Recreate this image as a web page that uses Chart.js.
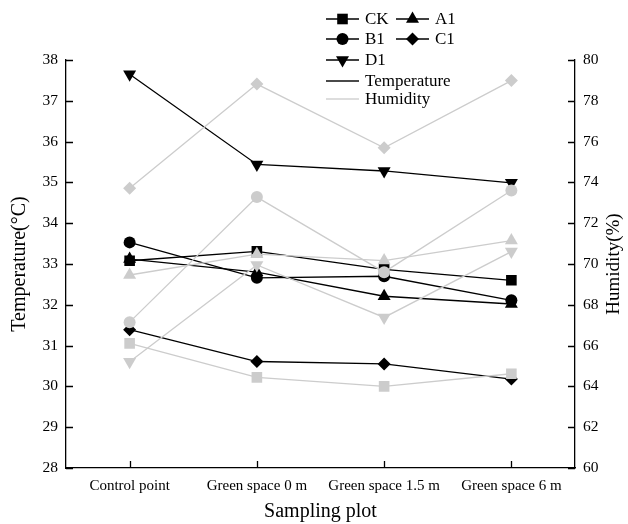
<!DOCTYPE html>
<html>
<head>
<meta charset="utf-8">
<title>Temperature and humidity by sampling plot</title>
<script src="https://cdn.jsdelivr.net/npm/chart.js"></script>
<style>
  html, body { margin: 0; padding: 0; background: #fff; }
  #wrap { width: 628px; height: 524px; }
</style>
</head>
<body>
<div id="wrap"><canvas id="chart" width="628" height="524"></canvas></div>
<script>
// values
const categories = ['Control point', 'Green space 0 m', 'Green space 1.5 m', 'Green space 6 m'];
const seriesNames = ['CK', 'A1', 'B1', 'C1', 'D1'];

const tempCK = [33.08, 33.31, 32.87, 32.60];
const tempA1 = [33.12, 32.80, 32.21, 32.02];
const tempB1 = [33.53, 32.66, 32.70, 32.11];
const tempC1 = [31.39, 30.61, 30.55, 30.18];
const tempD1 = [37.65, 35.44, 35.28, 34.99];

const humCK = [66.11, 64.44, 64.00, 64.62];
const humA1 = [69.46, 70.48, 70.17, 71.15];
const humB1 = [67.15, 73.28, 69.60, 73.60];
const humC1 = [73.71, 78.82, 75.70, 78.99];
const humD1 = [65.21, 69.95, 67.38, 70.61];

const tempTicks = [28, 29, 30, 31, 32, 33, 34, 35, 36, 37, 38];
const humTicks = [60, 62, 64, 66, 68, 70, 72, 74, 76, 78, 80];

const tempSeries = [tempCK, tempA1, tempB1, tempC1, tempD1];
const humSeries = [humCK, humA1, humB1, humC1, humD1];

const SERIF = "'Liberation Serif', 'Times New Roman', serif";
const BLACK = '#000000';
const GREY = '#cccccc';

// marker look for each plot (CK square, A1 triangle, B1 circle, C1 diamond, D1 down triangle)
const markers = [
    { style: 'rect', radius: 7.5, rotation: 0 },
    { style: 'triangle', radius: 7.5, rotation: 0 },
    { style: 'circle', radius: 6, rotation: 0 },
    { style: 'rectRot', radius: 6.5, rotation: 0 },
    { style: 'triangle', radius: 7.5, rotation: 180 },
];

function makeDataset(label, data, axis, color, m) {
    return {
        label: label,
        data: data,
        yAxisID: axis,
        borderColor: color,
        backgroundColor: color,
        borderWidth: 1.3,
        pointStyle: m.style,
        pointRadius: m.radius,
        pointRotation: m.rotation,
        pointBorderWidth: 0,
        pointBackgroundColor: color,
        tension: 0,
    };
}

// humidity first so it sits on top (first datasets are drawn last)
const datasets = [];
seriesNames.forEach((name, i) => {
    datasets.push(makeDataset(name + ' humidity', humSeries[i], 'y1', GREY, markers[i]));
});
seriesNames.forEach((name, i) => {
    datasets.push(makeDataset(name + ' temperature', tempSeries[i], 'y', BLACK, markers[i]));
});

function drawMarker(ctx, m, x, y, color) {
    ctx.save();
    ctx.fillStyle = color;
    ctx.strokeStyle = color;
    ctx.lineWidth = 0;
    Chart.helpers.drawPoint(ctx, { pointStyle: m.style, radius: m.radius, rotation: m.rotation, borderWidth: 0 }, x, y);
    ctx.restore();
}

// legend drawn over the top of the plot like in the reference
const overlayLegend = {
    id: 'overlayLegend',
    afterDraw(chart) {
        const ctx = chart.ctx;
        ctx.save();
        ctx.font = '17px ' + SERIF;
        ctx.textBaseline = 'middle';
        ctx.fillStyle = '#000';
        const items = [
            { i: 0, x: 326, y: 19 }, { i: 1, x: 396, y: 19 },
            { i: 2, x: 326, y: 39 }, { i: 3, x: 396, y: 39 },
            { i: 4, x: 326, y: 60 },
        ];
        items.forEach(it => {
            ctx.strokeStyle = BLACK;
            ctx.lineWidth = 1.3;
            ctx.beginPath();
            ctx.moveTo(it.x, it.y);
            ctx.lineTo(it.x + 33, it.y);
            ctx.stroke();
            drawMarker(ctx, markers[it.i], it.x + 16.5, it.y, BLACK);
            ctx.fillStyle = '#000';
            ctx.fillText(seriesNames[it.i], it.x + 39, it.y + 1);
        });
        const lines = [
            { text: 'Temperature', color: '#4a4a4a', y: 81 },
            { text: 'Humidity', color: '#dddddd', y: 99 },
        ];
        lines.forEach(l => {
            ctx.strokeStyle = l.color;
            ctx.lineWidth = 2;
            ctx.beginPath();
            ctx.moveTo(326, l.y);
            ctx.lineTo(359, l.y);
            ctx.stroke();
            ctx.fillStyle = '#000';
            ctx.fillText(l.text, 365, l.y + 1);
        });
        ctx.restore();
    }
};

// tick marks pointing into the plot, and the right title read bottom-to-top
const innerTicks = {
    id: 'innerTicks',
    afterDraw(chart) {
        const ctx = chart.ctx;
        const { x, y, y1 } = chart.scales;
        const area = chart.chartArea;
        const len = 7;
        ctx.save();
        ctx.strokeStyle = '#000';
        ctx.lineWidth = 1.3;
        ctx.beginPath();
        y.ticks.forEach((t, i) => {
            const py = Math.round(y.getPixelForTick(i)) + 0.5;
            ctx.moveTo(area.left, py);
            ctx.lineTo(area.left + len, py);
        });
        y1.ticks.forEach((t, i) => {
            const py = Math.round(y1.getPixelForTick(i)) + 0.5;
            ctx.moveTo(area.right, py);
            ctx.lineTo(area.right - len, py);
        });
        x.ticks.forEach((t, i) => {
            const px = Math.round(x.getPixelForTick(i)) + 0.5;
            ctx.moveTo(px, area.bottom);
            ctx.lineTo(px, area.bottom - len);
        });
        ctx.stroke();

        ctx.translate(614, (area.top + area.bottom) / 2);
        ctx.rotate(-Math.PI / 2);
        ctx.font = '19px ' + SERIF;
        ctx.fillStyle = '#000';
        ctx.textAlign = 'center';
        ctx.textBaseline = 'middle';
        ctx.fillText('Humidity(%)', 0, 0);
        ctx.restore();
    }
};

const whiteBg = {
    id: 'whiteBg',
    beforeDraw(chart) {
        const ctx = chart.ctx;
        ctx.save();
        ctx.fillStyle = '#fff';
        ctx.fillRect(0, 0, chart.width, chart.height);
        ctx.restore();
    }
};

const axisBorder = { display: true, color: '#000', width: 1.3 };

new Chart(document.getElementById('chart').getContext('2d'), {
    type: 'line',
    data: { labels: categories, datasets: datasets },
    options: {
        responsive: false,
        animation: false,
        devicePixelRatio: 1,
        layout: { padding: { top: 60, left: 0, right: 0, bottom: 0 } },
        plugins: {
            legend: { display: false },
            tooltip: { enabled: false },
        },
        scales: {
            x: {
                offset: true,
                border: axisBorder,
                grid: { display: false, drawTicks: false },
                ticks: { color: '#000', padding: 9, maxRotation: 0, font: { family: SERIF, size: 15 } },
                title: { display: true, text: 'Sampling plot', color: '#000', padding: { top: 0, bottom: 0 }, font: { family: SERIF, size: 20, lineHeight: 1.2 } },
                afterFit: s => { s.height = 56; },
            },
            y: {
                position: 'left',
                min: tempTicks[0],
                max: tempTicks[tempTicks.length - 1],
                border: axisBorder,
                grid: { display: false, drawTicks: false },
                ticks: { color: '#000', padding: 8, font: { family: SERIF, size: 15.5 } },
                afterBuildTicks: s => { s.ticks = tempTicks.map(v => ({ value: v })); },
                title: { display: true, text: 'Temperature(°C)', color: '#000', padding: { top: 8, bottom: 0 }, font: { family: SERIF, size: 20, lineHeight: 1.2 } },
                afterFit: s => { s.width = 66; },
            },
            y1: {
                position: 'right',
                min: humTicks[0],
                max: humTicks[humTicks.length - 1],
                border: axisBorder,
                grid: { display: false, drawTicks: false },
                ticks: { color: '#000', padding: 8, font: { family: SERIF, size: 15.5 } },
                afterBuildTicks: s => { s.ticks = humTicks.map(v => ({ value: v })); },
                title: { display: false },
                afterFit: s => { s.width = 53; },
            },
        },
    },
    plugins: [whiteBg, innerTicks, overlayLegend],
});
</script>
</body>
</html>
